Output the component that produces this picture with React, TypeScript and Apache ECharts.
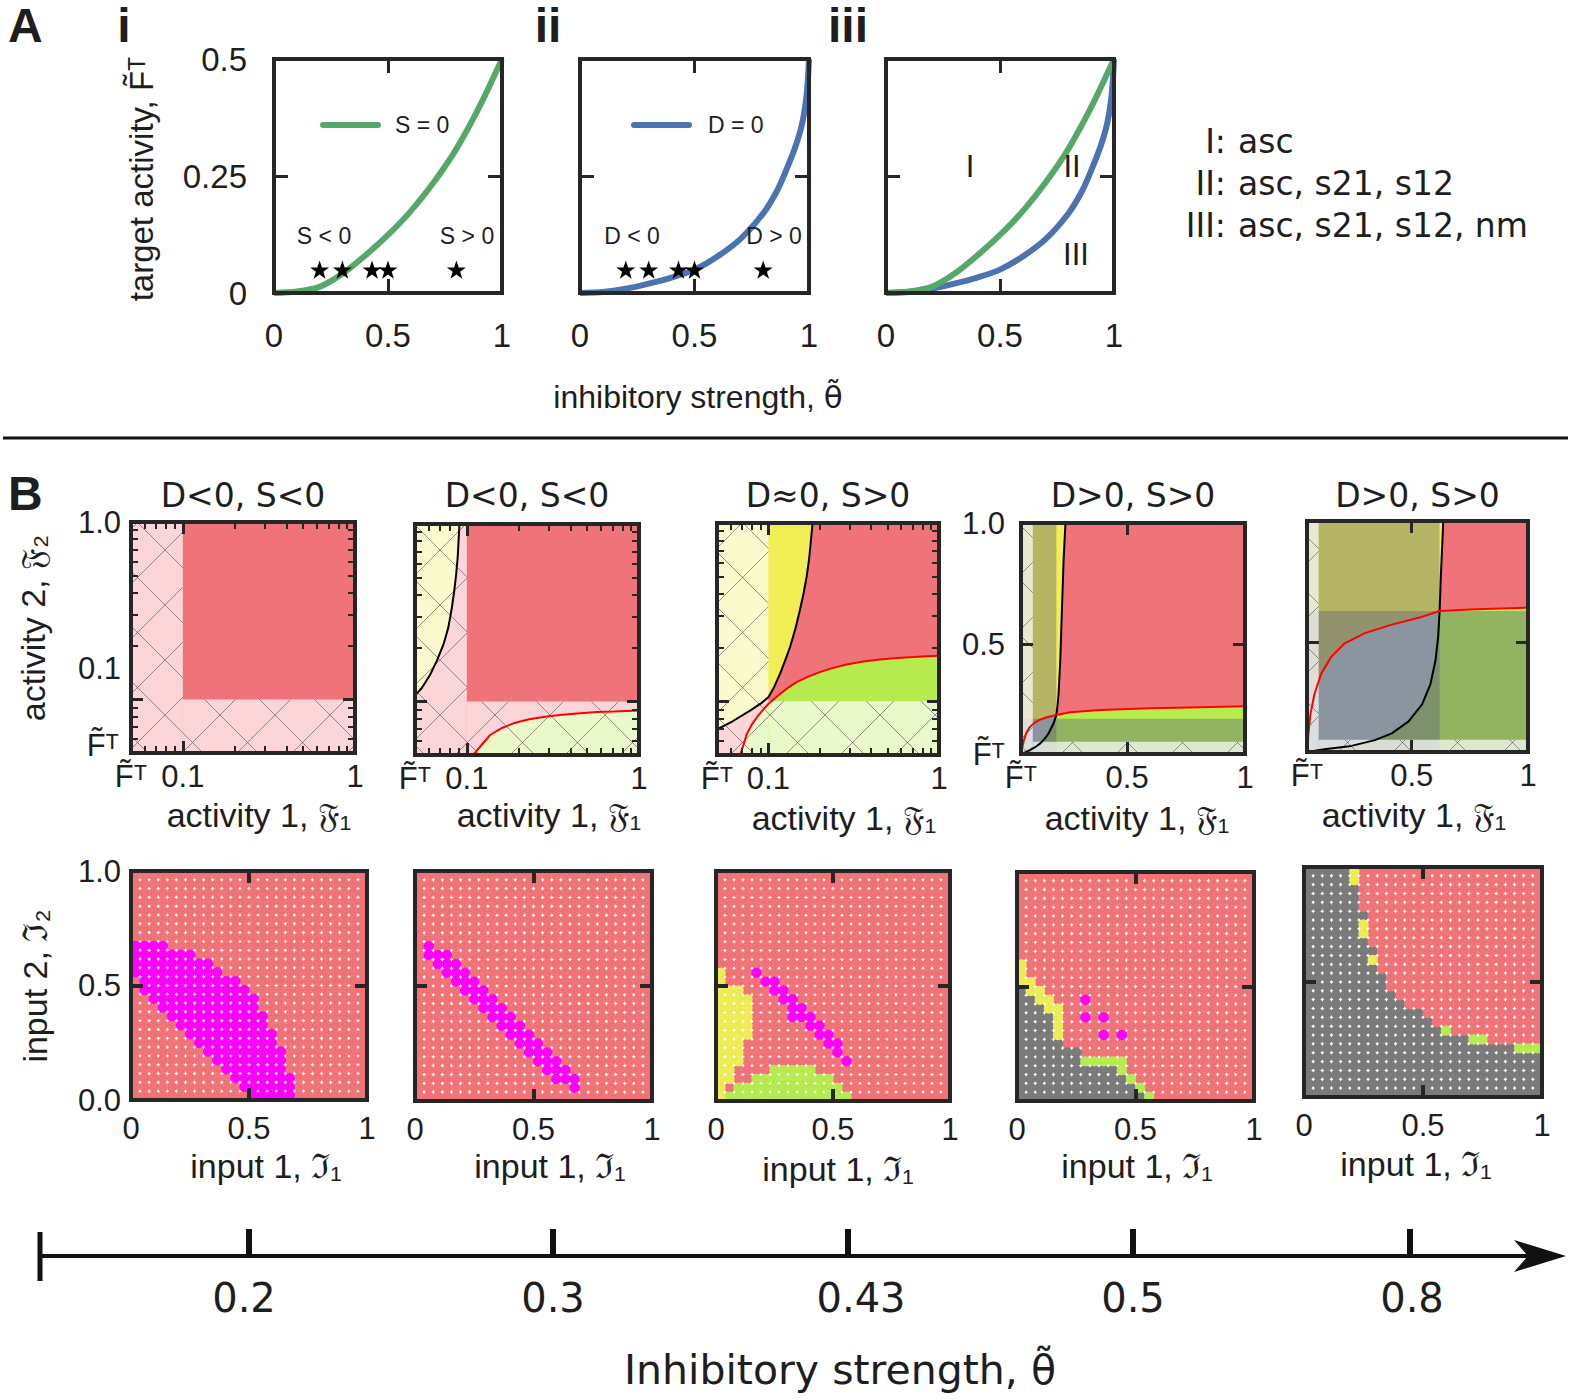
import React, { useEffect, useRef } from "react";
import * as echarts from "echarts";

/* ================= DATA ================= */
// ---- Panel A : target activity vs inhibitory strength ----
const thetaS = [0, 0.1, 0.2, 0.3, 0.4, 0.5, 0.6, 0.7, 0.8, 0.9, 1];
const targetS0 = [0, 0.003, 0.013, 0.041, 0.08, 0.124, 0.175, 0.236, 0.308, 0.397, 0.5];
const thetaD = [0, 0.1, 0.2, 0.3, 0.4, 0.5, 0.6, 0.7, 0.8, 0.86, 0.9, 0.94, 0.97, 0.99, 1];
const targetD0 = [0, 0.002, 0.009, 0.02, 0.033, 0.05, 0.078, 0.115, 0.17, 0.218, 0.262, 0.312, 0.362, 0.425, 0.5];
const starThetas = [0.2, 0.3, 0.43, 0.5, 0.8];
const starLevel = 0.05;
const curveNames = ["S = 0", "D = 0"];
const sideLabels = ["S < 0", "S > 0", "D < 0", "D > 0"];
const regionNames = ["I", "II", "III"];
const regionKeys = ["I:", "II:", "III:"];
const regionMotifs = ["asc", "asc, s21, s12", "asc, s21, s12, nm"];

// ---- Panel B top : activity phase planes ----
const FT = 0.05; // F~T, lower bound of the activity axes
const FTs = "F\u0303\u1D40";
const logTickValues = [FT, 0.1, 1];
const logTickNames = [FTs, "0.1", "1"];
const logMinorValues = [0.06, 0.07, 0.08, 0.09, 0.2, 0.3, 0.4, 0.5, 0.6, 0.7, 0.8, 0.9];
const linTickValues = [FT, 0.5, 1];
const linTickNamesX = [FTs, "0.5", "1"];
const linTickNamesY = [FTs, "0.5", "1.0"];
const b1YLabels = ["1.0", "0.1", FTs];
const topTitles = ["D<0, S<0", "D<0, S<0", "D\u22480, S>0", "D>0, S>0", "D>0, S>0"];
const strongLevel = 0.1;

const b2Black = [[0.05, 0.108], [0.055, 0.12], [0.0612, 0.1415], [0.067, 0.17], [0.0731, 0.209], [0.078, 0.26], [0.0818, 0.336], [0.0845, 0.42], [0.0867, 0.52], [0.0885, 0.65], [0.0895, 0.8], [0.0906, 1.0]];
const b2Red = [[0.109, 0.05], [0.12, 0.056], [0.1367, 0.0648], [0.16, 0.071], [0.1867, 0.0754], [0.23, 0.0795], [0.292, 0.0823], [0.36, 0.0843], [0.455, 0.086], [0.57, 0.0872], [0.711, 0.0878], [0.85, 0.0885], [1.0, 0.089]];

const b3Black = [[0.05, 0.0695], [0.0624, 0.0778], [0.0781, 0.0886], [0.09, 0.097], [0.1, 0.1053], [0.108, 0.12], [0.117, 0.1426], [0.125, 0.168], [0.134, 0.2016], [0.144, 0.255], [0.153, 0.324], [0.161, 0.405], [0.1676, 0.5], [0.173, 0.62], [0.177, 0.77], [0.1815, 1.0]];
const b3Red = [[0.0683, 0.05], [0.0715, 0.057], [0.0747, 0.0654], [0.08, 0.074], [0.0855, 0.0812], [0.0925, 0.089], [0.1, 0.0966], [0.108, 0.103], [0.117, 0.11], [0.13, 0.119], [0.1465, 0.128], [0.17, 0.137], [0.2004, 0.1457], [0.24, 0.154], [0.287, 0.161], [0.36, 0.167], [0.45, 0.1718], [0.57, 0.175], [0.705, 0.177], [0.85, 0.179], [1.0, 0.18]];

const b4BlackLow = [[0.05, 0.05], [0.07, 0.058], [0.0895, 0.0665], [0.11, 0.078], [0.1319, 0.0939], [0.15, 0.112], [0.1672, 0.1351], [0.1883, 0.1763], [0.2, 0.21]];
const b4BlackHigh = [[0.2, 0.21], [0.205, 0.25], [0.2095, 0.2999], [0.2166, 0.4371], [0.2236, 0.6431], [0.2307, 0.849], [0.2378, 0.9863], [0.239, 1.0]];
const b4RedLow = [[0.05, 0.05], [0.055, 0.075], [0.062, 0.105], [0.072, 0.135], [0.085, 0.158], [0.104, 0.176], [0.13, 0.191], [0.16, 0.201], [0.2, 0.21]];
const b4RedHigh = [[0.2, 0.21], [0.2589, 0.2216], [0.386, 0.2312], [0.5977, 0.2381], [0.8093, 0.2422], [1.0, 0.2463]];
const b4Shade = [0.2, 0.195];

const b5BlackLow = [[0.05, 0.05], [0.1252, 0.0612], [0.2409, 0.0751], [0.3421, 0.0989], [0.4144, 0.1268], [0.4867, 0.1757], [0.5445, 0.2456], [0.5807, 0.3294], [0.6024, 0.4272], [0.6139, 0.525], [0.62, 0.63]];
const b5BlackHigh = [[0.62, 0.63], [0.6255, 0.7765], [0.6313, 0.9022], [0.6356, 1.0]];
const b5RedLow = [[0.05, 0.05], [0.0558, 0.1199], [0.0645, 0.2037], [0.0818, 0.2875], [0.1107, 0.3713], [0.1541, 0.4412], [0.2119, 0.4971], [0.2987, 0.539], [0.4144, 0.5739], [0.53, 0.6018], [0.62, 0.63]];
const b5RedHigh = [[0.62, 0.63], [0.7759, 0.6368], [1.0, 0.6438]];
const b5Shade = [0.62, 0.63];

// ---- Panel B bottom : input grids (26 x 26 cells), runs = [row, colFrom, colTo, class] ----
const N = 26;
const c1Runs: [number, number, number, string][] = [
  [17, 0, 3, "m"], [16, 0, 6, "m"], [15, 0, 8, "m"], [14, 0, 9, "m"], [13, 1, 11, "m"], [12, 1, 12, "m"],
  [11, 2, 13, "m"], [10, 3, 13, "m"], [9, 4, 14, "m"], [8, 5, 14, "m"], [7, 6, 15, "m"], [6, 7, 15, "m"],
  [5, 8, 16, "m"], [4, 9, 16, "m"], [3, 10, 16, "m"], [2, 11, 17, "m"], [1, 12, 17, "m"], [0, 13, 17, "m"],
];
const c2Runs: [number, number, number, string][] = [
  [17, 1, 1, "m"], [16, 1, 3, "m"], [15, 2, 4, "m"], [14, 3, 5, "m"], [13, 4, 6, "m"], [12, 5, 7, "m"],
  [11, 6, 8, "m"], [10, 7, 9, "m"], [9, 8, 10, "m"], [8, 9, 11, "m"], [7, 10, 12, "m"], [6, 11, 13, "m"],
  [5, 12, 14, "m"], [4, 13, 15, "m"], [3, 14, 16, "m"], [2, 15, 17, "m"], [1, 17, 17, "m"],
];
const c3Runs: [number, number, number, string][] = [
  [14, 0, 0, "y"], [13, 0, 0, "y"], [12, 0, 2, "y"], [11, 0, 3, "y"], [10, 0, 3, "y"], [9, 0, 3, "y"],
  [8, 0, 3, "y"], [7, 0, 3, "y"], [6, 0, 2, "y"], [5, 0, 2, "y"], [4, 0, 2, "y"], [3, 0, 1, "y"],
  [2, 0, 1, "y"], [1, 0, 0, "y"], [0, 0, 0, "y"],
  [3, 6, 10, "g"], [2, 4, 12, "g"], [1, 2, 13, "g"], [0, 1, 14, "g"],
  [14, 4, 4, "m"], [13, 5, 6, "m"], [12, 6, 7, "m"], [11, 7, 8, "m"], [10, 8, 9, "m"], [9, 8, 10, "m"],
  [8, 10, 11, "m"], [7, 11, 12, "m"], [6, 12, 13, "m"], [5, 13, 13, "m"], [4, 14, 14, "m"],
];
const c4Runs: [number, number, number, string][] = [
  [12, 0, 0, "k"], [11, 0, 1, "k"], [10, 0, 2, "k"], [9, 0, 3, "k"], [8, 0, 3, "k"], [7, 0, 3, "k"],
  [6, 0, 4, "k"], [5, 0, 6, "k"], [4, 0, 6, "k"], [3, 0, 10, "k"], [2, 0, 11, "k"], [1, 0, 12, "k"], [0, 0, 13, "k"],
  [15, 0, 0, "y"], [14, 0, 0, "y"], [13, 0, 1, "y"], [12, 1, 2, "y"], [11, 2, 3, "y"], [10, 3, 4, "y"],
  [9, 4, 4, "y"], [8, 4, 4, "y"], [7, 4, 4, "y"],
  [4, 7, 11, "g"], [3, 11, 11, "g"], [2, 12, 12, "g"], [1, 13, 13, "g"], [0, 14, 14, "g"],
  [11, 7, 7, "m"], [9, 7, 7, "m"], [9, 9, 9, "m"], [7, 9, 9, "m"], [7, 11, 11, "m"],
];
const c5Runs: [number, number, number, string][] = [
  [25, 6, 25, "r"], [24, 6, 25, "r"], [23, 6, 25, "r"], [22, 6, 25, "r"], [21, 6, 25, "r"], [20, 7, 25, "r"],
  [19, 7, 25, "r"], [18, 7, 25, "r"], [17, 7, 25, "r"], [16, 8, 25, "r"], [15, 8, 25, "r"], [14, 8, 25, "r"],
  [13, 9, 25, "r"], [12, 9, 25, "r"], [11, 10, 25, "r"], [10, 11, 25, "r"], [9, 13, 25, "r"], [8, 14, 25, "r"],
  [7, 16, 25, "r"], [6, 20, 25, "r"],
  [25, 5, 5, "y"], [24, 5, 5, "y"], [19, 6, 6, "y"], [18, 6, 6, "y"], [15, 7, 7, "y"],
  [7, 15, 15, "g"], [6, 18, 19, "g"], [5, 23, 25, "g"],
];
const bottomBackgrounds = ["r", "r", "r", "r", "k"];
const inputTickNamesY = ["0.0", "0.5", "1.0"];

// ---- bottom schematic axis ----
const thetaLabels = ["0.2", "0.3", "0.43", "0.5", "0.8"];

/* ================= STYLE / LAYOUT ================= */
const AXC = "#262626";
const TXT = "#1e1e1e";
const LIB = "'Liberation Sans', Arial, sans-serif";
const DJV = "'DejaVu Sans', sans-serif";
const GREEN_LINE = "#55A868";
const BLUE_LINE = "#4C72B0";
const COL = {
  red: "#F07379",
  yellow: "#F2EE55",
  green: "#B6EB4F",
  lens: "#8A959F",
  shade: "rgba(92,96,125,0.4)",
  pale: "rgba(255,255,255,0.7)",
};
const CELL_COLORS: Record<string, string> = { r: "#F07378", m: "#FF00FF", y: "#EEEC55", g: "#B5EB4F", k: "#7A7A7A" };

const A_RECTS = [
  { left: 274, top: 59, width: 228, height: 234 },
  { left: 580, top: 59, width: 229, height: 234 },
  { left: 886, top: 59, width: 228, height: 234 },
];
const B_RECTS = [
  { left: 131, top: 522, width: 224, height: 231 },
  { left: 415, top: 524, width: 224, height: 231 },
  { left: 717, top: 523, width: 222, height: 232 },
  { left: 1021, top: 523, width: 224, height: 231 },
  { left: 1307, top: 521, width: 221, height: 231 },
];
const C_RECTS = [
  { left: 131, top: 871, width: 236, height: 229 },
  { left: 415, top: 871, width: 237, height: 230 },
  { left: 716, top: 871, width: 234, height: 230 },
  { left: 1017, top: 872, width: 237, height: 229 },
  { left: 1304, top: 867, width: 238, height: 230 },
];

const STAR = "path://M50,0 L61.8,35.1 L97.6,35.1 L68.8,56.7 L79.4,90.9 L50,69.6 L20.6,90.9 L31.2,56.7 L2.4,35.1 L38.2,35.1 Z";

/* ================= HELPERS ================= */
const rect = (x0: number, y0: number, x1: number, y1: number) => [[x0, y0], [x1, y0], [x1, y1], [x0, y1]];

function sepLayers(black: number[][], red: number[][]) {
  const L: any[] = [{ pts: rect(FT, FT, 1, 1), fill: COL.red }];
  if (black.length) L.push({ pts: [...black, [FT, 1]], fill: COL.yellow });
  if (red.length) L.push({ pts: [...red, [1, FT]], fill: COL.green });
  return L;
}
function crossLayers(bl: number[][], bh: number[][], rl: number[][], rh: number[][], shade: number[]) {
  return [
    { pts: [...rl, ...bh.slice(1), [FT, 1]], fill: COL.yellow },
    { pts: [...bh, [1, 1], ...[...rh].reverse()], fill: COL.red },
    { pts: [...bl, ...rh.slice(1), [1, FT]], fill: COL.green },
    { pts: rect(FT, FT, shade[0], 1), fill: COL.shade },
    { pts: rect(FT, FT, 1, shade[1]), fill: COL.shade },
    { pts: [...rl, ...[...bl].reverse()], fill: COL.lens },
  ];
}
const nameOf = (vals: number[], names: string[]) => (v: number) => {
  let best = 0;
  for (let i = 1; i < vals.length; i++) {
    if (Math.abs(Math.log(vals[i]) - Math.log(v)) < Math.abs(Math.log(vals[best]) - Math.log(v))) best = i;
  }
  return names[best];
};

function T(x: number, y: number, text: string, size: number, o: any = {}) {
  const style: any = {
    text, fontSize: size, fontFamily: o.family || LIB, fontWeight: o.weight || "normal",
    fill: o.fill || TXT, align: o.align || "center", verticalAlign: o.va || "middle",
  };
  if (o.rich) style.rich = o.rich;
  return { type: "text", x, y, rotation: o.rot || 0, z: 100, silent: true, style };
}
function L(x1: number, y1: number, x2: number, y2: number, color: string, w: number, cap = "butt") {
  return { type: "line", z: 100, silent: true, shape: { x1, y1, x2, y2 }, style: { stroke: color, lineWidth: w, lineCap: cap } };
}

function buildOption() {
  const grid: any[] = [];
  const xAxis: any[] = [];
  const yAxis: any[] = [];
  const series: any[] = [];
  const graphic: any[] = [];

  const addGrid = (r: any) => {
    grid.push({ ...r, show: false, containLabel: false, outerBoundsMode: "none" });
    return grid.length - 1;
  };

  const mkAxis = (gi: number, c: any, pos: string, values: number[] | undefined, len: number, w: number, line: boolean, label: any) => {
    const a: any = {
      gridIndex: gi, type: c.type, min: c.min, max: c.max, position: pos, z: 10, silent: true,
      axisLine: { show: line, onZero: false, lineStyle: { color: AXC, width: 4, cap: "square" } },
      axisTick: { show: true, inside: true, length: len, lineStyle: { color: AXC, width: w } },
      axisLabel: label || { show: false },
      splitLine: { show: false },
      minorTick: { show: false },
    };
    if (c.type === "log") a.logBase = 10;
    if (values) a.axisTick.customValues = values;
    if (c.interval) a.interval = c.interval;
    return a;
  };
  const addBox = (gi: number, xc: any, yc: any) => {
    xAxis.push(mkAxis(gi, xc, "bottom", xc.major, xc.tickLen, xc.tickW || 3, true, xc.label));
    const xi = xAxis.length - 1;
    xAxis.push(mkAxis(gi, xc, "top", xc.major, xc.tickLen, xc.tickW || 3, true, null));
    yAxis.push(mkAxis(gi, yc, "left", yc.major, yc.tickLen, yc.tickW || 3, true, yc.label));
    const yi = yAxis.length - 1;
    yAxis.push(mkAxis(gi, yc, "right", yc.major, yc.tickLen, yc.tickW || 3, true, null));
    if (xc.minor) {
      xAxis.push(mkAxis(gi, xc, "bottom", xc.minor, 7, 2, false, null));
      xAxis.push(mkAxis(gi, xc, "top", xc.minor, 7, 2, false, null));
    }
    if (yc.minor) {
      yAxis.push(mkAxis(gi, yc, "left", yc.minor, 7, 2, false, null));
      yAxis.push(mkAxis(gi, yc, "right", yc.minor, 7, 2, false, null));
    }
    return { xi, yi };
  };
  const lab = (margin: number, size: number, extra: any = {}) => ({
    show: true, margin, fontSize: size, fontFamily: LIB, color: TXT, ...extra,
  });

  /* ---------- Panel A ---------- */
  A_RECTS.forEach((r, k) => {
    const gi = addGrid(r);
    const { xi, yi } = addBox(
      gi,
      { type: "value", min: 0, max: 1, interval: 0.5, tickLen: 14, label: lab(26, 33) },
      { type: "value", min: 0, max: 0.5, interval: 0.25, tickLen: 14, label: k === 0 ? lab(27, 33) : null }
    );
    const green = {
      type: "line", xAxisIndex: xi, yAxisIndex: yi, z: 3, silent: true,
      data: thetaS.map((t, i) => [t, targetS0[i]]), showSymbol: false, symbol: "none",
      smooth: 0.3, lineStyle: { color: GREEN_LINE, width: 6 },
    };
    const blue = {
      type: "line", xAxisIndex: xi, yAxisIndex: yi, z: 3, silent: true,
      data: thetaD.map((t, i) => [t, targetD0[i]]), showSymbol: false, symbol: "none",
      smooth: 0.3, lineStyle: { color: BLUE_LINE, width: 6 },
    };
    const stars = {
      type: "scatter", xAxisIndex: xi, yAxisIndex: yi, z: 4, silent: true,
      data: starThetas.map((t) => [t, starLevel]), symbol: STAR, symbolSize: 19, symbolKeepAspect: true,
      itemStyle: { color: "#000", opacity: 1 },
    };
    if (k === 0) series.push(green, stars);
    if (k === 1) series.push(blue, stars);
    if (k === 2) series.push(blue, { ...green, z: 4 });
  });

  /* ---------- Panel B top ---------- */
  const topPanels = [
    { log: true, layers: sepLayers([], []), black: [] as number[][], red: [] as number[][] },
    { log: true, layers: sepLayers(b2Black, b2Red), black: b2Black, red: b2Red },
    { log: true, layers: sepLayers(b3Black, b3Red), black: b3Black, red: b3Red },
    {
      log: false, layers: crossLayers(b4BlackLow, b4BlackHigh, b4RedLow, b4RedHigh, b4Shade),
      black: [...b4BlackLow, ...b4BlackHigh.slice(1)], red: [...b4RedLow, ...b4RedHigh.slice(1)],
    },
    {
      log: false, layers: crossLayers(b5BlackLow, b5BlackHigh, b5RedLow, b5RedHigh, b5Shade),
      black: [...b5BlackLow, ...b5BlackHigh.slice(1)], red: [...b5RedLow, ...b5RedHigh.slice(1)],
    },
  ];
  const strips = [[FT, FT, strongLevel, 1], [strongLevel, FT, 1, strongLevel]];

  topPanels.forEach((p, k) => {
    const gi = addGrid(B_RECTS[k]);
    const xc: any = p.log
      ? { type: "log", min: FT, max: 1, major: logTickValues, minor: logMinorValues, tickLen: 12,
          label: lab(8, 31, { customValues: logTickValues, formatter: nameOf(logTickValues, logTickNames) }) }
      : { type: "value", min: FT, max: 1, major: linTickValues, tickLen: 12,
          label: lab(8, 31, { customValues: linTickValues, formatter: nameOf(linTickValues, linTickNamesX) }) };
    const yc: any = p.log
      ? { type: "log", min: FT, max: 1, major: logTickValues, minor: logMinorValues, tickLen: 12, label: null }
      : { type: "value", min: FT, max: 1, major: linTickValues, tickLen: 12,
          label: k === 3 ? lab(16, 31, { customValues: linTickValues, formatter: nameOf(linTickValues, linTickNamesY) }) : null };
    const { xi, yi } = addBox(gi, xc, yc);

    const layers = [...p.layers, ...strips.map((s) => ({ pts: rect(s[0], s[1], s[2], s[3]), fill: COL.pale }))];
    series.push({
      type: "custom", xAxisIndex: xi, yAxisIndex: yi, z: 2, silent: true, clip: true,
      data: layers.map(() => [0.5, 0.5]),
      renderItem: (params: any, api: any) => {
        const ly = layers[params.dataIndex];
        return { type: "polygon", shape: { points: ly.pts.map((q: number[]) => api.coord(q)) }, style: { fill: ly.fill } };
      },
    });
    // hatching of the weak-activity strips
    series.push({
      type: "custom", xAxisIndex: xi, yAxisIndex: yi, z: 3, silent: true, clip: true,
      data: [[0.5, 0.5]],
      renderItem: (_params: any, api: any) => {
        const children: any[] = [];
        const sp = 55;
        const ln = (a: number, b: number, c: number, d: number) => ({
          type: "line", shape: { x1: a, y1: b, x2: c, y2: d },
          style: { stroke: "rgba(70,60,60,0.55)", lineWidth: 1 },
        });
        strips.forEach((s) => {
          const p0 = api.coord([s[0], s[1]]);
          const p1 = api.coord([s[2], s[3]]);
          const x0 = Math.min(p0[0], p1[0]), x1 = Math.max(p0[0], p1[0]);
          const y0 = Math.min(p0[1], p1[1]), y1 = Math.max(p0[1], p1[1]);
          for (let c = Math.floor((x0 + y0) / sp) * sp; c <= x1 + y1; c += sp) {
            const xa = Math.max(x0, c - y1), xb = Math.min(x1, c - y0);
            if (xb > xa) children.push(ln(xa, c - xa, xb, c - xb));
          }
          for (let d = Math.floor((x0 - y1) / sp) * sp; d <= x1 - y0; d += sp) {
            const xa = Math.max(x0, y0 + d), xb = Math.min(x1, y1 + d);
            if (xb > xa) children.push(ln(xa, xa - d, xb, xb - d));
          }
        });
        return { type: "group", children };
      },
    });
    if (p.black.length) {
      series.push({
        type: "line", xAxisIndex: xi, yAxisIndex: yi, z: 5, silent: true, data: p.black,
        showSymbol: false, symbol: "none", lineStyle: { color: "#000", width: 2 },
      });
    }
    if (p.red.length) {
      series.push({
        type: "line", xAxisIndex: xi, yAxisIndex: yi, z: 5, silent: true, data: p.red,
        showSymbol: false, symbol: "none", lineStyle: { color: "#FF0000", width: 2 },
      });
    }
  });

  /* ---------- Panel B bottom ---------- */
  const allRuns = [c1Runs, c2Runs, c3Runs, c4Runs, c5Runs];
  allRuns.forEach((runs, k) => {
    const gi = addGrid(C_RECTS[k]);
    const { xi, yi } = addBox(
      gi,
      { type: "value", min: 0, max: 1, interval: 0.5, tickLen: 12, tickW: 4, label: lab(13, 31) },
      { type: "value", min: 0, max: 1, interval: 0.5, tickLen: 12, tickW: 4,
        label: k === 0 ? lab(10, 31, { formatter: (v: number) => inputTickNamesY[Math.round(v * 2)] }) : null }
    );
    const bg = bottomBackgrounds[k];
    const cells: string[][] = [];
    for (let j = 0; j < N; j++) cells.push(new Array(N).fill(bg));
    runs.forEach(([row, c0, c1, code]) => {
      for (let c = c0; c <= c1; c++) cells[row][c] = code;
    });
    const order = [bg, ...["r", "k", "g", "y", "m"].filter((c) => c !== bg)];
    order.forEach((code, oi) => {
      const data: number[][] = [];
      for (let j = 0; j < N; j++) for (let i = 0; i < N; i++) if (cells[j][i] === code) data.push([(i + 0.5) / N, (j + 0.5) / N]);
      if (!data.length) return;
      series.push({
        type: "scatter", xAxisIndex: xi, yAxisIndex: yi, z: 2 + oi, silent: true, data,
        symbol: "circle", symbolSize: 10.4, itemStyle: { color: CELL_COLORS[code], opacity: 1 },
      });
    });
  });

  /* ---------- texts & decorations ---------- */
  graphic.push(T(8, 25, "A", 48, { weight: "bold", align: "left" }));
  graphic.push(T(124, 25, "i", 48, { weight: "bold" }));
  graphic.push(T(548, 25, "ii", 48, { weight: "bold" }));
  graphic.push(T(848, 25, "iii", 48, { weight: "bold" }));
  graphic.push(T(8, 493, "B", 48, { weight: "bold", align: "left" }));

  graphic.push(T(141, 179, "target activity, " + FTs, 33, { rot: Math.PI / 2 }));
  graphic.push(T(698, 397, "inhibitory strength, {t|\u03B8\u0303}", 32, { rich: { t: { fontFamily: DJV, fontSize: 31 } } }));
  graphic.push(L(323, 125, 378, 125, GREEN_LINE, 6, "round"));
  graphic.push(T(395, 125, curveNames[0], 23, { align: "left" }));
  graphic.push(L(634, 125, 689, 125, BLUE_LINE, 6, "round"));
  graphic.push(T(708, 125, curveNames[1], 23, { align: "left" }));
  graphic.push(T(324, 236, sideLabels[0], 23));
  graphic.push(T(467, 236, sideLabels[1], 23));
  graphic.push(T(632, 236, sideLabels[2], 23));
  graphic.push(T(774, 236, sideLabels[3], 23));
  graphic.push(T(970, 166, regionNames[0], 31));
  graphic.push(T(1072, 166, regionNames[1], 31));
  graphic.push(T(1076, 254, regionNames[2], 31));
  [141, 183, 225].forEach((y, i) => {
    graphic.push(T(1226, y, regionKeys[i], 33, { family: DJV, align: "right" }));
    graphic.push(T(1238, y, regionMotifs[i], 33, { family: DJV, align: "left" }));
  });
  graphic.push(L(3, 438, 1568, 438, "#111", 3));

  B_RECTS.forEach((r, i) => graphic.push(T(r.left + r.width / 2, 495, topTitles[i], 33, { family: DJV })));
  graphic.push(T(33, 628, "activity 2, \u{1D509}\u2082", 34, { rot: Math.PI / 2 }));
  graphic.push(T(121, 522, b1YLabels[0], 31, { align: "right" }));
  graphic.push(T(121, 668, b1YLabels[1], 31, { align: "right" }));
  graphic.push(T(119, 745, b1YLabels[2], 31, { align: "right" }));
  const topXT = [[259, 815], [549, 815], [844, 818], [1137, 818], [1414, 815]];
  topXT.forEach(([x, y]) => graphic.push(T(x, y, "activity 1, \u{1D509}\u2081", 34)));

  graphic.push(T(35, 986, "input 2, \u2111\u2082", 34, { rot: Math.PI / 2 }));
  const botXT = [[266, 1166], [550, 1166], [838, 1169], [1137, 1166], [1416, 1164]];
  botXT.forEach(([x, y]) => graphic.push(T(x, y, "input 1, \u2111\u2081", 34)));

  // schematic theta axis
  graphic.push(L(40, 1256, 1530, 1256, "#111", 4));
  graphic.push(L(40, 1232, 40, 1281, "#111", 5));
  graphic.push({
    type: "polygon", z: 100, silent: true,
    shape: { points: [[1566, 1256], [1514, 1240], [1528, 1256], [1514, 1272]] },
    style: { fill: "#111" },
  });
  const tickX = [249, 553, 848, 1133, 1410];
  const labX = [244, 553, 861, 1133, 1412];
  tickX.forEach((x) => graphic.push(L(x, 1229, x, 1256, "#111", 6)));
  labX.forEach((x, i) => graphic.push(T(x, 1298, thetaLabels[i], 40, { family: DJV })));
  graphic.push(T(840, 1370, "Inhibitory strength, \u03B8\u0303", 41, { family: DJV }));

  return {
    animation: false,
    backgroundColor: "#ffffff",
    grid, xAxis, yAxis, series,
    graphic: { elements: graphic },
  };
}

export default function App() {
  const ref = useRef<HTMLDivElement>(null);
  useEffect(() => {
    if (!ref.current) return;
    const chart = echarts.init(ref.current, undefined, { renderer: "svg" });
    chart.setOption(buildOption() as any);
    return () => chart.dispose();
  }, []);
  return (
    <div
      ref={ref}
      style={{ position: "fixed", left: 0, top: 0, width: 1574, height: 1399, background: "#fff" }}
    />
  );
}
